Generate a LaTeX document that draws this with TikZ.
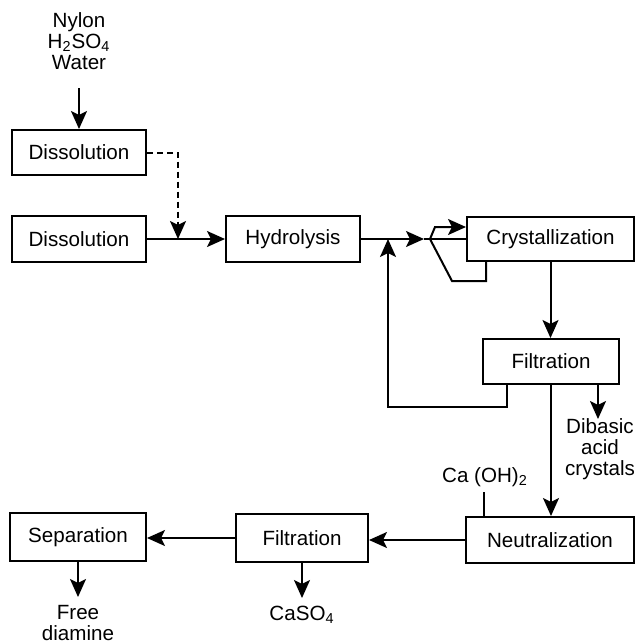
\documentclass[tikz,border=0pt]{standalone}
\usepackage{fontspec}
\setmainfont{Liberation Sans}
\usetikzlibrary{arrows.meta}
\begin{document}
\begin{tikzpicture}[x=0.5pt,y=-0.5pt,
  every node/.style={font=\fontsize{10.3}{10.5}\selectfont},
  box/.style={draw, line width=1pt, inner sep=0pt, anchor=center},
  flow/.style={line width=1pt},
  arr/.style={flow, -{Stealth[length=9pt,width=8pt,inset=2pt]}},
  txt/.style={align=center, inner sep=0pt}]
\useasboundingbox (0,0) rectangle (637,644);

% process units
\node[box, minimum width=67pt, minimum height=22.5pt] (dis1) at (79,152.5) {Dissolution};
\node[box, minimum width=67pt, minimum height=23pt]   (dis2) at (79,239)   {Dissolution};
\node[box, minimum width=67pt, minimum height=23pt]   (hyd)  at (293,239)  {Hydrolysis};
\node[box, minimum width=83.5pt, minimum height=22pt] (cry)  at (550.5,239) {Crystallization};
\node[box, minimum width=68pt, minimum height=22.5pt] (fil1) at (551,361.5) {Filtration};
\node[box, minimum width=84pt, minimum height=23pt]   (neu)  at (550,540)  {Neutralization};
\node[box, minimum width=66pt, minimum height=24pt]   (fil2) at (302,538)  {Filtration};
\node[box, minimum width=68pt, minimum height=24pt]   (sep)  at (78,537)   {Separation};

% feeds and products
\node[txt] (feed) at (79,41) {Nylon\\H\textsubscript{2}SO\textsubscript{4}\\Water};
\node[txt] (dib)  at (600,449) {Dibasic\\acid\\crystals};
\node[txt] (caoh) at (485,477) {Ca (OH)\textsubscript{2}};
\node[txt] (caso) at (302,615) {CaSO\textsubscript{4}};
\node[txt, anchor=north] (amine) at (78,605) {Free\\diamine};

% feed into the first dissolver
\coordinate (feedend) at (79,88);
\draw[arr] (feedend) -- (dis1.north);

% dashed transfer joining the main line
\coordinate (join) at (178,239);
\draw[arr, dash pattern=on 3pt off 2pt] (dis1.east) -| (join);

% main line
\draw[arr] (dis2.east) -- (hyd.west);
\coordinate (fork) at (430,239);
\coordinate (mid) at (424,239);
\draw[arr] (hyd.east) -- (mid);
\draw[flow] (mid) -- (cry.west);
\coordinate (upk) at (435,227);
\draw[arr] (fork) -- (upk) -- (upk -| cry.west);
\coordinate (lowk) at (452,281);
\draw[flow] (fork) -- (lowk) -| ([xshift=10pt]cry.south west);

% crystallizer to filter
\draw[arr] (cry.south) -- (cry.south |- fil1.north);

% mother liquor recycle
\coordinate (ret) at (388,407);
\draw[arr] ([xshift=12.5pt]fil1.south west) |- (ret) -- (ret |- fork);

% crystals out
\coordinate (dibend) at (598,419);
\draw[arr] (fil1.south -| dibend) -- (dibend);

% filtrate to neutralization
\draw[arr] (fil1.south) -- (fil1.south |- neu.north);
\coordinate (caend) at (484,492);
\draw[flow] (caend) -- (caend |- neu.north);

% bottom row
\draw[arr] (neu.west) -- (neu.west -| fil2.east);
\draw[arr] (fil2.west) -- (fil2.west -| sep.east);
\coordinate (casoend) at (302,598);
\draw[arr] (fil2.south) -- (casoend);
\coordinate (amineend) at (78,597);
\draw[arr] (sep.south) -- (amineend);
\end{tikzpicture}
\end{document}
